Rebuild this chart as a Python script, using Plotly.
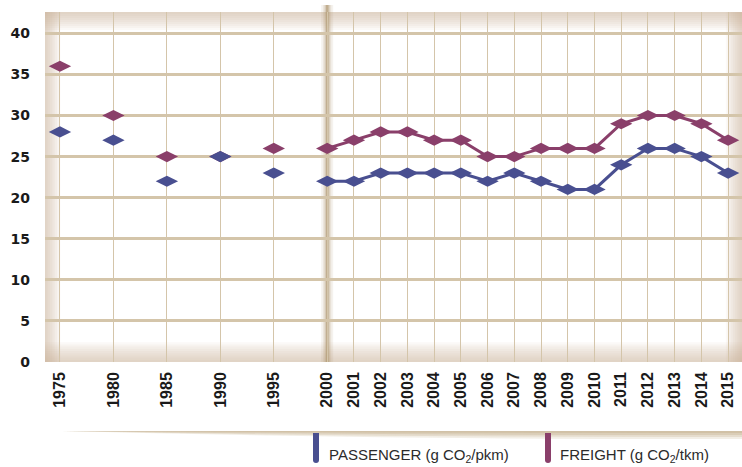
import plotly.graph_objects as go

# ---- data -------------------------------------------------------------
years = [1975, 1980, 1985, 1990, 1995, 2000, 2001, 2002, 2003, 2004, 2005,
         2006, 2007, 2008, 2009, 2010, 2011, 2012, 2013, 2014, 2015]
year_labels = [str(y) for y in years]
passenger = [28, 27, 22, 25, 23, 22, 22, 23, 23, 23, 23,
             22, 23, 22, 21, 21, 24, 26, 26, 25, 23]
freight = [36, 30, 25, 25, 26, 26, 27, 28, 28, 27, 27,
           25, 25, 26, 26, 26, 29, 30, 30, 29, 27]
y_ticks = [0, 5, 10, 15, 20, 25, 30, 35, 40]

# five-year steps before 2000 take two slots, yearly steps one slot
slots = [(y - 1975) // 5 * 2 if y <= 2000 else 10 + (y - 2000) for y in years]
annual_start = years.index(2000)

PASS_C = "#494f90"
FREI_C = "#8a3f6a"
GRID_C = "#d4c5aa"

# ---- page geometry (pixels) ---------------------------------------------
W, H = 742, 467
L, T, B, R = 45, 12, 105, 0
PW, PH = W - L - R, H - T - B


def px(x):
    return (x - L) / PW


def py(y):
    return (H - B - y) / PH


fig = go.Figure()

# yearly series joined by lines from 2000 on
for vals, col in ((freight, FREI_C), (passenger, PASS_C)):
    fig.add_trace(go.Scatter(
        x=slots[annual_start:], y=vals[annual_start:], mode="lines",
        line=dict(color=col, width=3), hoverinfo="skip", showlegend=False))
for vals, col, name in ((freight, FREI_C, "FREIGHT"), (passenger, PASS_C, "PASSENGER")):
    fig.add_trace(go.Scatter(
        x=slots, y=vals, mode="markers", name=name,
        marker=dict(symbol="diamond-wide", size=16, color=col, line=dict(width=0)),
        showlegend=False))

shapes = []

# soft inner shading around the plotting panel
shade = "rgba(196,178,146,0.075)"
for k in range(1, 10):
    d = 2.0 * k
    shapes += [
        dict(type="rect", xref="paper", yref="paper", x0=0, x1=1,
             y0=py(T + d), y1=1, fillcolor=shade, line_width=0, layer="below"),
        dict(type="rect", xref="paper", yref="paper", x0=0, x1=1,
             y0=0, y1=py(H - B - d * 1.1), fillcolor=shade, line_width=0, layer="below"),
        dict(type="rect", xref="paper", yref="paper", x0=0, x1=px(L + d * 0.85),
             y0=0, y1=1, fillcolor=shade, line_width=0, layer="below"),
        dict(type="rect", xref="paper", yref="paper", x0=px(W - d * 0.9), x1=1,
             y0=0, y1=1, fillcolor=shade, line_width=0, layer="below"),
    ]

# blurred divider marking the switch to yearly values
for w, a in ((12, 0.12), (8, 0.18), (5, 0.3), (2.5, 0.55)):
    shapes.append(dict(type="line", xref="x", yref="paper",
                       x0=slots[annual_start], x1=slots[annual_start],
                       y0=0, y1=py(5), layer="between",
                       line=dict(color=f"rgba(175,152,112,{a})", width=w)))

# drop shadow beneath the year label strip
for depth, a in ((8, 0.22), (6, 0.28), (4, 0.34), (2, 0.4)):
    y0 = py(431)
    y1 = py(431 + depth)
    path = (f"M {px(62)},{y0} L {px(742)},{y0} L {px(742)},{y1} "
            f"Q {px(400)},{py(431 + depth * 1.1)} {px(62)},{y0} Z")
    shapes.append(dict(type="path", xref="paper", yref="paper", path=path,
                       fillcolor=f"rgba(196,176,140,{a})", line_width=0))

# legend swatches: upright bars with a rounded foot
for x0, col in ((313, PASS_C), (545, FREI_C)):
    x1 = x0 + 6
    xm = (x0 + x1) / 2
    top, bot = 433, 463
    path = (f"M {px(x0)},{py(top)} L {px(x1)},{py(top)} L {px(x1)},{py(bot - 3)} "
            f"Q {px(x1)},{py(bot)} {px(xm)},{py(bot)} "
            f"Q {px(x0)},{py(bot)} {px(x0)},{py(bot - 3)} Z")
    shapes.append(dict(type="path", xref="paper", yref="paper", path=path,
                       fillcolor=col, line_width=0))

legend_font = dict(family="Liberation Sans, Arial, sans-serif", size=15, color="#2b2b2b")
annotations = [
    dict(xref="paper", yref="paper", x=px(327), y=py(455), xanchor="left", yanchor="middle",
         text="PASSENGER (g CO<sub>2</sub>/pkm)", showarrow=False, font=legend_font),
    dict(xref="paper", yref="paper", x=px(558), y=py(455), xanchor="left", yanchor="middle",
         text="FREIGHT (g CO<sub>2</sub>/tkm)", showarrow=False, font=legend_font),
]

fig.update_layout(
    width=W, height=H,
    margin=dict(l=L, r=R, t=T, b=B, pad=0),
    paper_bgcolor="white", plot_bgcolor="white",
    shapes=shapes, annotations=annotations,
    showlegend=False,
    xaxis=dict(
        range=[-0.56, 25.52], tickmode="array", tickvals=slots, ticktext=year_labels,
        tickangle=-90, showgrid=True, gridcolor=GRID_C, gridwidth=1,
        zeroline=False, showline=False, ticks="", ticklabelstandoff=6,
        tickfont=dict(family="Liberation Sans, Arial, sans-serif", size=16,
                      color="#1a1a1a", weight="bold"),
        fixedrange=True),
    yaxis=dict(
        range=[0, 42.6], tickmode="array", tickvals=y_ticks,
        ticktext=[str(v) for v in y_ticks],
        showgrid=True, gridcolor=GRID_C, gridwidth=3,
        zeroline=False, showline=False, ticks="", ticklabelstandoff=14,
        tickfont=dict(family="DejaVu Sans, sans-serif", size=14,
                      color="#1a1a1a", weight="bold"),
        fixedrange=True),
)

fig.write_html("out.html")
